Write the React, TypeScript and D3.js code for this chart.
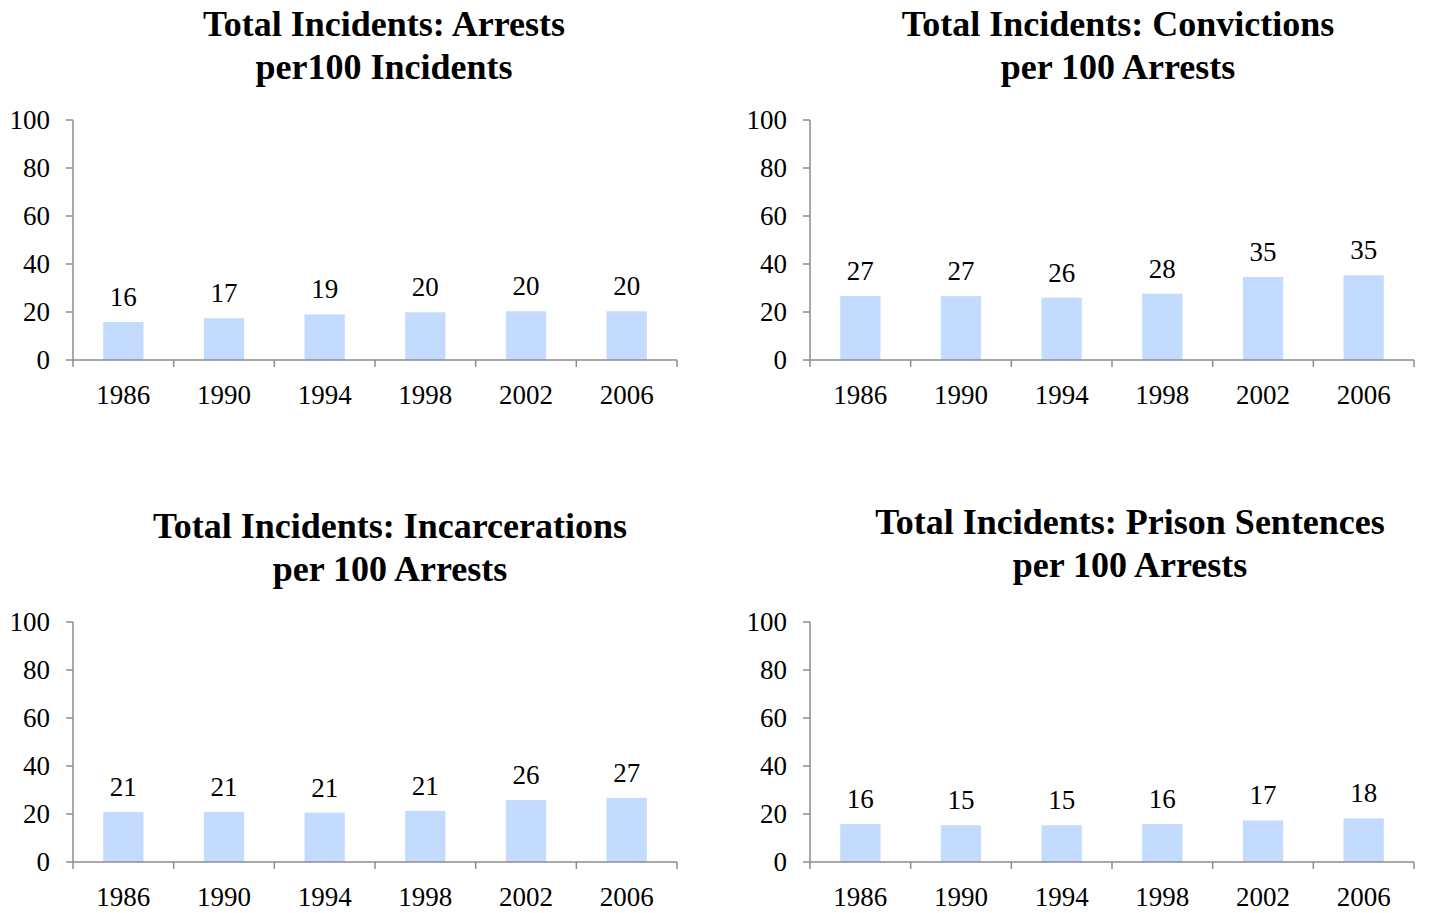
import React from "react";
import * as d3 from "d3";

const years = ["1986", "1990", "1994", "1998", "2002", "2006"];
const arrestsPer100Incidents = [15.8, 17.4, 19.0, 19.9, 20.3, 20.3];
const convictionsPer100Arrests = [26.7, 26.6, 26.0, 27.6, 34.6, 35.3];
const incarcerationsPer100Arrests = [20.8, 20.8, 20.6, 21.3, 25.8, 26.7];
const prisonPer100Arrests = [15.8, 15.3, 15.3, 15.8, 17.3, 18.2];
const yTicks = [0, 20, 40, 60, 80, 100];

const panels = [
  { title: ["Total Incidents: Arrests", "per100 Incidents"], values: arrestsPer100Incidents, left: 73, top: 120, titleX: 384, titleY: 36 },
  { title: ["Total Incidents: Convictions", "per 100 Arrests"], values: convictionsPer100Arrests, left: 810, top: 120, titleX: 1118, titleY: 36 },
  { title: ["Total Incidents: Incarcerations", "per 100 Arrests"], values: incarcerationsPer100Arrests, left: 73, top: 622, titleX: 390, titleY: 538 },
  { title: ["Total Incidents: Prison Sentences", "per 100 Arrests"], values: prisonPer100Arrests, left: 810, top: 622, titleX: 1130, titleY: 534 },
];

const W = 604;
const H = 240;
const FONT = "'Liberation Serif', 'DejaVu Serif', serif";
const AXIS = "#8c8c8c";
const BAR = "#c2dbff";

function Panel({ p }: { p: typeof panels[number] }) {
  const x = d3.scaleBand<string>().domain(years).range([p.left, p.left + W]).paddingInner(0.6).paddingOuter(0.3);
  const y = d3.scaleLinear().domain([0, 100]).range([p.top + H, p.top]);
  const step = x.step();
  const boundaries = d3.range(years.length + 1).map((i) => p.left + i * step);
  const base = y(0);
  return (
    <g>
      <text x={p.titleX} y={p.titleY} textAnchor="middle" fontFamily={FONT} fontWeight="bold" fontSize={36} fill="#000">{p.title[0]}</text>
      <text x={p.titleX} y={p.titleY + 43} textAnchor="middle" fontFamily={FONT} fontWeight="bold" fontSize={36} fill="#000">{p.title[1]}</text>
      {p.values.map((v, i) => (
        <g key={years[i]}>
          <rect x={x(years[i])} y={y(v)} width={x.bandwidth()} height={base - y(v)} fill={BAR} />
          <text x={(x(years[i]) as number) + x.bandwidth() / 2} y={y(v) - 16} textAnchor="middle" fontFamily={FONT} fontSize={27} fill="#000">{Math.round(v)}</text>
          <text x={(x(years[i]) as number) + x.bandwidth() / 2} y={base + 44} textAnchor="middle" fontFamily={FONT} fontSize={27} fill="#000">{years[i]}</text>
        </g>
      ))}
      <line x1={p.left} x2={p.left} y1={y(100)} y2={base} stroke={AXIS} strokeWidth={1.5} />
      {yTicks.map((t) => (
        <g key={t}>
          <line x1={p.left - 7} x2={p.left} y1={y(t)} y2={y(t)} stroke={AXIS} strokeWidth={1.5} />
          <text x={p.left - 23} y={y(t)} dy="0.35em" textAnchor="end" fontFamily={FONT} fontSize={27} fill="#000">{t}</text>
        </g>
      ))}
      <line x1={p.left} x2={p.left + W} y1={base} y2={base} stroke={AXIS} strokeWidth={1.5} />
      {boundaries.map((bx, i) => (
        <line key={i} x1={bx} x2={bx} y1={base} y2={base + 7} stroke={AXIS} strokeWidth={1.5} />
      ))}
    </g>
  );
}

export default function App() {
  return (
    <svg width={1429} height={913} style={{ position: "absolute", left: 0, top: 0, background: "#fff" }}>
      <rect width={1429} height={913} fill="#fff" />
      {panels.map((p, i) => (
        <Panel key={i} p={p} />
      ))}
    </svg>
  );
}
